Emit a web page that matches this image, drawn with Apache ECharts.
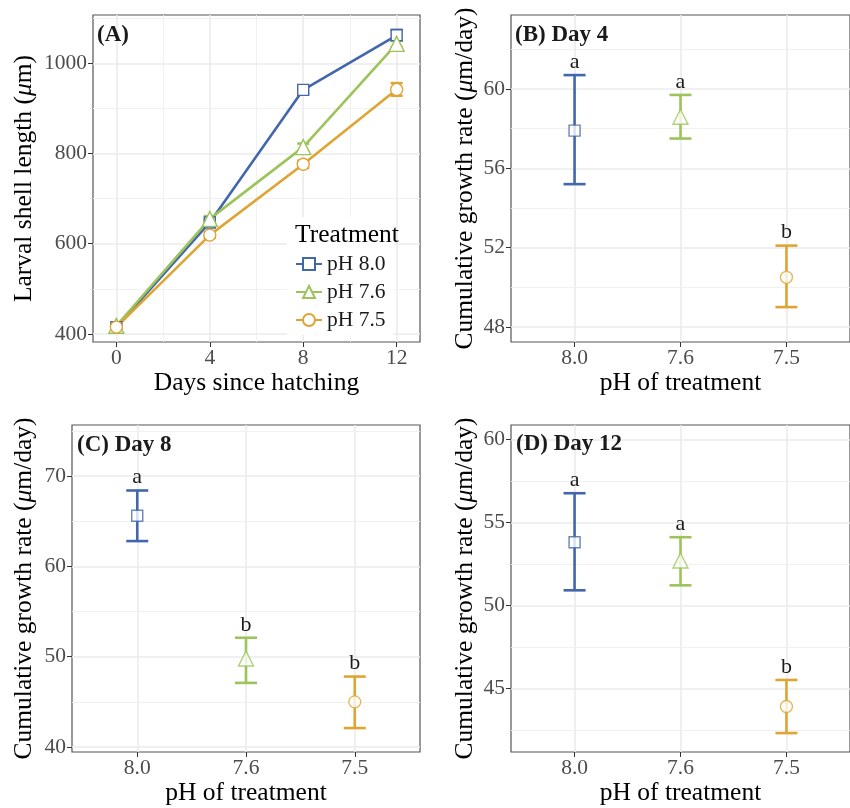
<!DOCTYPE html>
<html>
<head>
<meta charset="utf-8">
<script src="https://cdn.jsdelivr.net/npm/echarts@6/dist/echarts.min.js"></script>
<style>
  html, body { margin: 0; padding: 0; background: #fff; }
  #main { width: 850px; height: 808px; }
</style>
</head>
<body>
<div id="main"></div>
<script>
// panel A: larval shell length by day
const days = [0, 4, 8, 12]
const len80 = [415, 647, 941, 1062]
const len76 = [418, 655, 814, 1043]
const len75 = [415, 619, 776, 942]
const err80 = [4, 6, 8, 12]
const err76 = [4, 6, 8, 7]
const err75 = [4, 6, 8, 14]

// panels B-D: cumulative growth rate
const phCats = ['8.0', '7.6', '7.5']
const day4Mean = [57.9, 58.6, 50.5]
const day4Low = [55.2, 57.5, 49.0]
const day4High = [60.7, 59.7, 52.1]
const day4Letters = ['a', 'a', 'b']
const day8Mean = [65.6, 49.8, 45.0]
const day8Low = [62.8, 47.1, 42.1]
const day8High = [68.4, 52.1, 47.8]
const day8Letters = ['a', 'b', 'b']
const day12Mean = [53.8, 52.7, 43.9]
const day12Low = [50.9, 51.2, 42.3]
const day12High = [56.75, 54.1, 45.5]
const day12Letters = ['a', 'a', 'b']

// tick labels
const dayTicks = [0, 4, 8, 12]
const lenTicks = [400, 600, 800, 1000]
const day4Ticks = [48, 52, 56, 60]
const day8Ticks = [40, 50, 60, 70]
const day12Ticks = [45, 50, 55, 60]

const colors = ['#4267AC', '#9DC45A', '#DEA534']
const symbols = ['rect', 'triangle', 'circle']
const symSizes = [11, 15, 12]
const FONT = 'Liberation Serif'

let chart = echarts.init(document.getElementById('main'))

function errRender(capW, letters) {
  return function (params, api) {
    const x = api.value(0)
    const lo = api.coord([x, api.value(1)])
    const hi = api.coord([x, api.value(2)])
    const style = { stroke: api.visual('color'), lineWidth: 2.6 }
    const kids = [
      { type: 'line', shape: { x1: lo[0], y1: lo[1], x2: hi[0], y2: hi[1] }, style: style },
      { type: 'line', shape: { x1: lo[0] - capW / 2, y1: lo[1], x2: lo[0] + capW / 2, y2: lo[1] }, style: style },
      { type: 'line', shape: { x1: hi[0] - capW / 2, y1: hi[1], x2: hi[0] + capW / 2, y2: hi[1] }, style: style }
    ]
    if (letters) {
      kids.push({
        type: 'text', x: hi[0], y: hi[1] - 13,
        style: { text: letters[params.dataIndex], fill: '#1A1A1A', font: '22px "' + FONT + '"', align: 'center', verticalAlign: 'middle' }
      })
    }
    return { type: 'group', children: kids }
  }
}

// grid lines go through markLine so they follow the axes
function gridLines(idx, xMajor, xMinor, yMajor, yMinor) {
  const major = { color: '#EBEBEB', width: 1.6, type: 'solid' }
  const minor = { color: '#EFEFEF', width: 0.9, type: 'solid' }
  let data = []
  xMajor.forEach(v => data.push({ xAxis: v, lineStyle: major }))
  xMinor.forEach(v => data.push({ xAxis: v, lineStyle: minor }))
  yMajor.forEach(v => data.push({ yAxis: v, lineStyle: major }))
  yMinor.forEach(v => data.push({ yAxis: v, lineStyle: minor }))
  return {
    type: 'line', xAxisIndex: idx, yAxisIndex: idx, data: [], z: 0,
    markLine: { silent: true, z: 0, symbol: 'none', label: { show: false }, animation: false, data: data }
  }
}

function xAxisOf(idx, min, max, ticks, fmt, name) {
  return {
    type: 'value', gridIndex: idx, min: min, max: max,
    name: name, nameLocation: 'middle', nameGap: 28,
    nameTextStyle: { fontFamily: FONT, fontSize: 25.5, color: '#000' },
    axisLine: { show: false, onZero: false },
    axisTick: { show: true, length: 5, customValues: ticks, lineStyle: { color: '#333', width: 1 } },
    axisLabel: { customValues: ticks, formatter: fmt, margin: 5, fontFamily: FONT, fontSize: 21.5, color: '#4D4D4D' },
    splitLine: { show: false }
  }
}

function yAxisOf(idx, min, max, ticks, name, gap) {
  return {
    type: 'value', gridIndex: idx, min: min, max: max,
    name: name, nameLocation: 'middle', nameGap: gap,
    nameTextStyle: {
      rich: {
        t: { fontFamily: FONT, fontSize: 25.5, color: '#000' },
        i: { fontFamily: FONT, fontSize: 25.5, color: '#000', fontStyle: 'italic' }
      }
    },
    axisLine: { show: false, onZero: false },
    axisTick: { show: true, length: 5, customValues: ticks, lineStyle: { color: '#333', width: 1 } },
    axisLabel: { customValues: ticks, formatter: v => String(v), margin: 6, fontFamily: FONT, fontSize: 21.5, color: '#4D4D4D' },
    splitLine: { show: false }
  }
}

const catFmt = v => phCats[Math.round(v)]
const dayFmt = v => String(v)
const rateName = '{t|Cumulative growth rate (}{i|μ}{t|m/day)}'

function panelSeries(idx, mean, low, high, letters) {
  return [
    {
      type: 'custom', xAxisIndex: idx, yAxisIndex: idx, z: 3,
      renderItem: errRender(22, letters),
      data: phCats.map((c, i) => ({ value: [i, low[i], high[i]], itemStyle: { color: colors[i] } }))
    },
    {
      type: 'scatter', xAxisIndex: idx, yAxisIndex: idx, z: 4,
      data: phCats.map((c, i) => ({
        value: [i, mean[i]], symbol: symbols[i], symbolSize: symSizes[i],
        itemStyle: { color: '#fff', borderColor: colors[i], borderWidth: 1.4 }
      }))
    }
  ]
}

const lenSeries = [len80, len76, len75]
const errSeries = [err80, err76, err75]
const legendNames = ['pH 8.0', 'pH 7.6', 'pH 7.5']

let seriesA = []
lenSeries.forEach((vals, k) => {
  seriesA.push({
    type: 'custom', xAxisIndex: 0, yAxisIndex: 0, z: 2,
    renderItem: errRender(12, null),
    itemStyle: { color: colors[k] },
    data: days.map((d, i) => [d, vals[i] - errSeries[k][i], vals[i] + errSeries[k][i]])
  })
})
lenSeries.forEach((vals, k) => {
  seriesA.push({
    name: legendNames[k], type: 'line', xAxisIndex: 0, yAxisIndex: 0, z: 3,
    symbol: symbols[k], symbolSize: symSizes[k],
    lineStyle: { color: colors[k], width: 2.6 },
    itemStyle: { color: '#fff', borderColor: colors[k], borderWidth: 1.4 },
    data: days.map((d, i) => [d, vals[i]])
  })
})

let option = {
  animation: false,
  backgroundColor: '#fff',
  grid: [
    { left: 93, top: 15, width: 327, height: 327 },
    { left: 511, top: 15, width: 348, height: 327 },
    { left: 72, top: 425, width: 348, height: 327 },
    { left: 511, top: 425, width: 348, height: 327 }
  ].map(g => Object.assign(g, { show: true, borderColor: '#555', borderWidth: 1.2, backgroundColor: '#fff', containLabel: false })),
  title: [
    { text: '(A)', left: 97, top: 24 },
    { text: '(B) Day 4', left: 515, top: 24 },
    { text: '(C) Day 8', left: 77, top: 434 },
    { text: '(D) Day 12', left: 516, top: 433 }
  ].map(t => Object.assign(t, { padding: 0, textStyle: { fontFamily: FONT, fontSize: 23, fontWeight: 'bold', color: '#1A1A1A' } }))
    .concat([{ text: 'Treatment', left: 295, top: 222, padding: 0, textStyle: { fontFamily: FONT, fontSize: 25.5, fontWeight: 'normal', color: '#000' } }]),
  legend: {
    data: legendNames,
    orient: 'vertical', left: 287, top: 217,
    padding: [36, 8, 4, 8],
    backgroundColor: '#fff',
    itemWidth: 26, itemHeight: 15, itemGap: 6,
    textStyle: { fontFamily: FONT, fontSize: 21.5, color: '#1A1A1A' }
  },
  xAxis: [
    xAxisOf(0, -1, 13, dayTicks, dayFmt, 'Days since hatching'),
    xAxisOf(1, -0.6, 2.6, [0, 1, 2], catFmt, 'pH of treatment'),
    xAxisOf(2, -0.6, 2.6, [0, 1, 2], catFmt, 'pH of treatment'),
    xAxisOf(3, -0.6, 2.6, [0, 1, 2], catFmt, 'pH of treatment')
  ],
  yAxis: [
    yAxisOf(0, 382, 1107, lenTicks, '{t|Larval shell length (}{i|μ}{t|m)}', 56),
    yAxisOf(1, 47.24, 63.73, day4Ticks, rateName, 33),
    yAxisOf(2, 39.45, 75.65, day8Ticks, rateName, 35),
    yAxisOf(3, 41.16, 60.86, day12Ticks, rateName, 33)
  ],
  series: [
    gridLines(0, dayTicks, [2, 6, 10], lenTicks, [500, 700, 900, 1100]),
    gridLines(1, [0, 1, 2], [], day4Ticks, [50, 54, 58, 62]),
    gridLines(2, [0, 1, 2], [], day8Ticks, [45, 55, 65, 75]),
    gridLines(3, [0, 1, 2], [], day12Ticks, [42.5, 47.5, 52.5, 57.5])
  ].concat(seriesA)
    .concat(panelSeries(1, day4Mean, day4Low, day4High, day4Letters))
    .concat(panelSeries(2, day8Mean, day8Low, day8High, day8Letters))
    .concat(panelSeries(3, day12Mean, day12Low, day12High, day12Letters))
}

chart.setOption(option)
</script>
</body>
</html>
